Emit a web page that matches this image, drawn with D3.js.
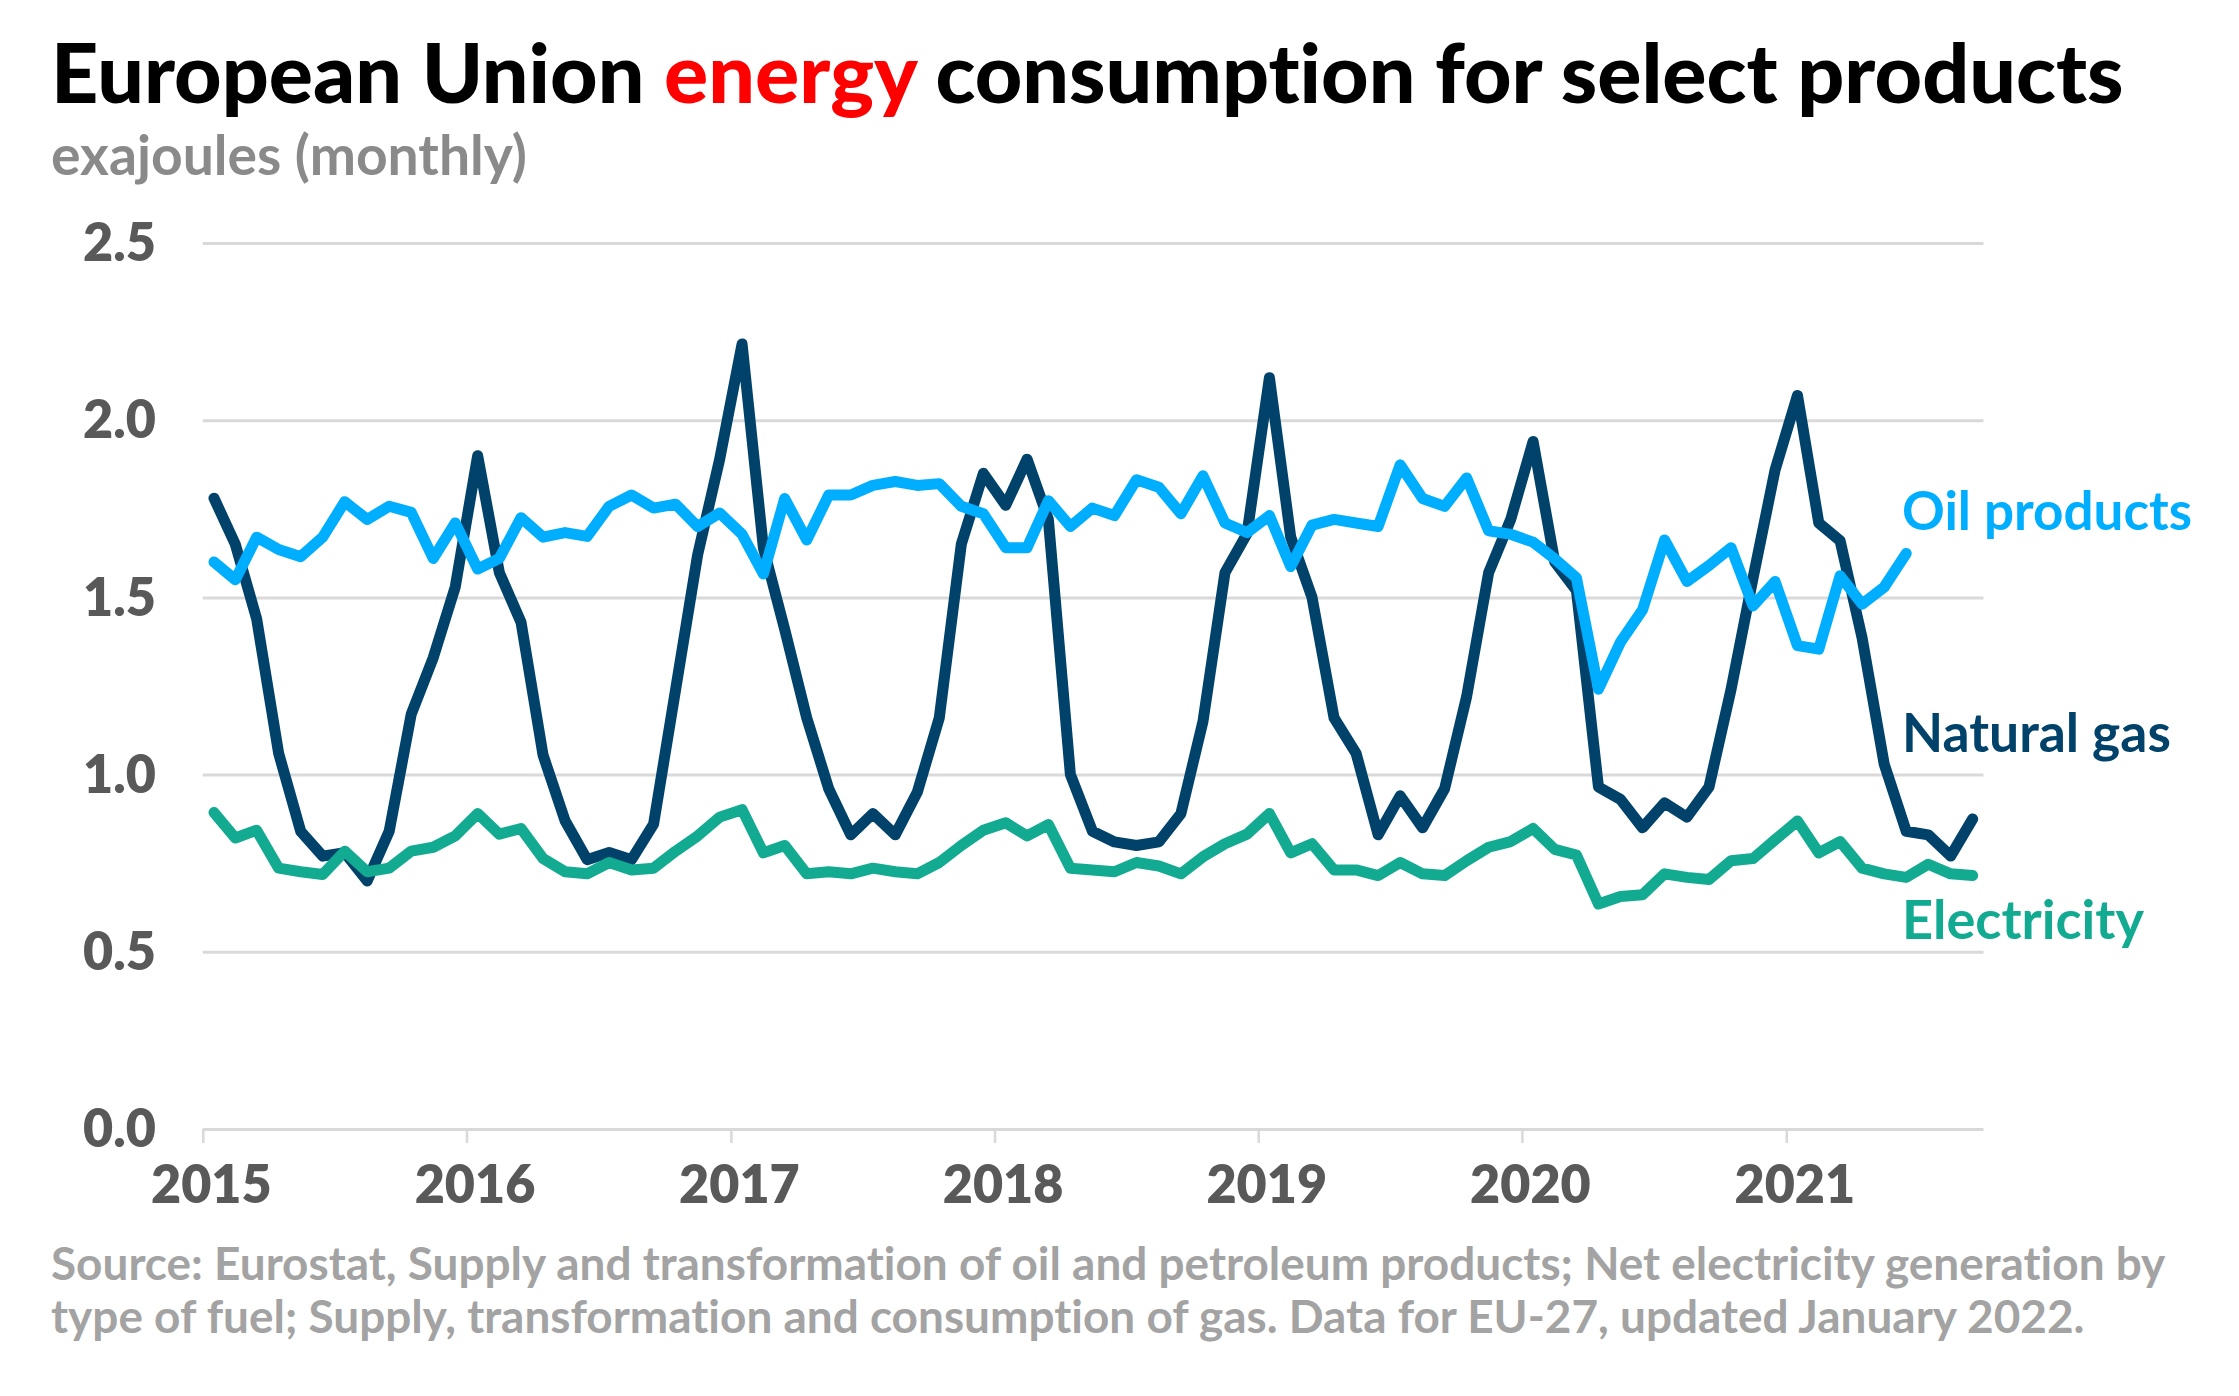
<!DOCTYPE html>
<html>
<head>
<meta charset="utf-8">
<script src="https://cdn.jsdelivr.net/npm/d3@7"></script>
<style>
  html, body { margin: 0; padding: 0; background: #ffffff; }
  svg { display: block; font-family: Lato, "Noto Sans", sans-serif; font-variant-ligatures: none; font-feature-settings: "liga" 0, "dlig" 0; }
</style>
</head>
<body>
<script>
// ---------------- DATA ----------------
const startMonth = new Date(2015, 0, 1);
const endMonth = new Date(2021, 9, 1); // axis end (exclusive)

// monthly values, Jan 2015 onward (exajoules)
const naturalGas = [
  1.78, 1.65, 1.44, 1.06, 0.84, 0.77, 0.78, 0.70, 0.84, 1.17, 1.33, 1.53,
  1.90, 1.57, 1.43, 1.055, 0.87, 0.76, 0.78, 0.76, 0.86, 1.24, 1.62, 1.89,
  2.215, 1.64, 1.41, 1.16, 0.96, 0.83, 0.89, 0.83, 0.95, 1.16, 1.65, 1.85,
  1.76, 1.89, 1.72, 1.00, 0.84, 0.81, 0.80, 0.81, 0.89, 1.15, 1.57, 1.68,
  2.12, 1.67, 1.50, 1.16, 1.06, 0.83, 0.94, 0.85, 0.96, 1.22, 1.57, 1.72,
  1.94, 1.60, 1.52, 0.965, 0.93, 0.85, 0.92, 0.88, 0.965, 1.24, 1.555, 1.86,
  2.07, 1.71, 1.66, 1.385, 1.03, 0.84, 0.83, 0.77, 0.875
];
const oilProducts = [
  1.60, 1.55, 1.67, 1.635, 1.615, 1.67, 1.77, 1.72, 1.757, 1.74, 1.61, 1.71,
  1.58, 1.61, 1.725, 1.67, 1.683, 1.672, 1.757, 1.789, 1.752, 1.763, 1.70, 1.738,
  1.678, 1.566, 1.779, 1.662, 1.789, 1.789, 1.816, 1.827, 1.816, 1.821, 1.757, 1.736,
  1.64, 1.64, 1.773, 1.70, 1.752, 1.731, 1.832, 1.811, 1.736, 1.843, 1.71, 1.683,
  1.731, 1.587, 1.704, 1.72, 1.71, 1.70, 1.874, 1.779, 1.757, 1.837, 1.688, 1.678,
  1.656, 1.609, 1.555, 1.241, 1.374, 1.465, 1.662, 1.545, 1.59, 1.64, 1.476, 1.545,
  1.364, 1.354, 1.561, 1.481, 1.529, 1.624
];
const electricity = [
  0.893, 0.821, 0.843, 0.736, 0.726, 0.718, 0.784, 0.726, 0.736, 0.784, 0.795, 0.827,
  0.890, 0.832, 0.848, 0.763, 0.726, 0.720, 0.752, 0.731, 0.736, 0.784, 0.827, 0.880,
  0.901, 0.779, 0.800, 0.720, 0.726, 0.720, 0.736, 0.726, 0.720, 0.752, 0.800, 0.843,
  0.864, 0.827, 0.859, 0.736, 0.731, 0.726, 0.752, 0.742, 0.720, 0.768, 0.805, 0.832,
  0.890, 0.779, 0.805, 0.731, 0.731, 0.715, 0.752, 0.720, 0.715, 0.757, 0.795, 0.811,
  0.848, 0.789, 0.773, 0.635, 0.656, 0.661, 0.720, 0.710, 0.704, 0.757, 0.763, 0.816,
  0.869, 0.779, 0.811, 0.736, 0.720, 0.710, 0.747, 0.720, 0.715
];
const yTicks = [0, 0.5, 1.0, 1.5, 2.0, 2.5];
const seriesNames = ["Natural gas", "Electricity", "Oil products"];
const titleParts = ["European Union ", "energy", " consumption for select products"];
const subtitleText = "exajoules (monthly)";
const sourceLines = [
  "Source: Eurostat, Supply and transformation of oil and petroleum products; Net electricity generation by",
  "type of fuel; Supply, transformation and consumption of gas. Data for EU-27, updated January 2022."
];

// ---------------- LAYOUT ----------------
const W = 2239, H = 1396;
const plotLeft = 202.8, plotRight = 1983.5, plotTop = 243, plotBottom = 1129;
const colors = { gas: "#01426a", oil: "#00aeff", elec: "#12aa91" };

const svg = d3.select("body").append("svg").attr("width", W).attr("height", H);
svg.append("rect").attr("width", W).attr("height", H).attr("fill", "#fff");

const x = d3.scaleTime().domain([startMonth, endMonth]).range([plotLeft, plotRight]);
const y = d3.scaleLinear().domain([0, 2.5]).range([plotBottom, plotTop]);

function midMonth(i) {
  const a = d3.timeMonth.offset(startMonth, i);
  const b = d3.timeMonth.offset(startMonth, i + 1);
  return new Date((+a + +b) / 2);
}

// fit text to a target width
function fit(sel, target) {
  const node = sel.node();
  const fs = parseFloat(sel.attr("font-size"));
  const len = node.getComputedTextLength();
  const nf = fs * target / len;
  sel.attr("font-size", nf);
  return nf;
}

// y axis + grid
const yAxis = d3.axisLeft(y).tickValues(yTicks).tickFormat(d3.format(".1f"))
  .tickSizeInner(-(plotRight - plotLeft)).tickSizeOuter(0).tickPadding(47);
const gy = svg.append("g").attr("transform", `translate(${plotLeft},0)`).call(yAxis);
gy.select(".domain").remove();
gy.selectAll(".tick line").attr("stroke", "#d9d9d9").attr("stroke-width", 3);
gy.selectAll(".tick text")
  .attr("fill", "#595959").attr("font-size", 52).attr("font-weight", 800)
  .attr("font-family", "Lato").attr("dy", "0.34em");

// x axis
const xAxis = d3.axisBottom(x).ticks(d3.timeYear.every(1)).tickFormat(d3.timeFormat("%Y"))
  .tickSizeInner(14).tickSizeOuter(0);
const gx = svg.append("g").attr("transform", `translate(0,${plotBottom})`).call(xAxis);
gx.select(".domain").remove();
gx.selectAll(".tick line").attr("stroke", "#d9d9d9").attr("stroke-width", 2.5);
gx.selectAll(".tick text")
  .attr("fill", "#595959").attr("font-size", 52).attr("font-weight", 800)
  .attr("font-family", "Lato").attr("y", 74).attr("dy", 0).attr("x", 8);

// lines
const line = d3.line().x((d, i) => x(midMonth(i))).y(d => y(d)).curve(d3.curveLinear);
const series = [
  { values: naturalGas, color: colors.gas },
  { values: electricity, color: colors.elec },
  { values: oilProducts, color: colors.oil }
];
svg.append("g").selectAll("path").data(series).join("path")
  .attr("d", d => line(d.values))
  .attr("fill", "none")
  .attr("stroke", d => d.color)
  .attr("stroke-width", 11)
  .attr("stroke-linejoin", "round")
  .attr("stroke-linecap", "round");

// series labels
const labels = [
  { text: seriesNames[2], color: colors.oil, y: 530, w: 290 },
  { text: seriesNames[0], color: colors.gas, y: 752, w: 269 },
  { text: seriesNames[1], color: colors.elec, y: 939, w: 242 }
];
labels.forEach(l => {
  const t = svg.append("text").attr("x", 1902).attr("y", l.y)
    .attr("fill", l.color).attr("font-size", 50).attr("font-weight", 700)
    .attr("font-family", "Lato").text(l.text);
  fit(t, l.w);
});

// title
const title = svg.append("text").attr("x", 51).attr("y", 103)
  .attr("font-size", 76).attr("font-weight", 900).attr("font-family", "Lato").attr("fill", "#000");
title.append("tspan").text(titleParts[0]);
title.append("tspan").attr("fill", "#ff0000").text(titleParts[1]);
title.append("tspan").text(titleParts[2]);
fit(title, 2073);

// subtitle
const sub = svg.append("text").attr("x", 51).attr("y", 175)
  .attr("font-size", 42).attr("font-weight", 700).attr("font-family", "Lato")
  .attr("fill", "#8a8a8a").text(subtitleText);
fit(sub, 476);

// source
const s1 = svg.append("text").attr("x", 51).attr("y", 1280)
  .attr("font-size", 38).attr("font-weight", 700).attr("font-family", "Lato")
  .attr("fill", "#a3a3a3").text(sourceLines[0]);
const sf = fit(s1, 2115);
svg.append("text").attr("x", 51).attr("y", 1333)
  .attr("font-size", sf).attr("font-weight", 700).attr("font-family", "Lato")
  .attr("fill", "#a3a3a3").text(sourceLines[1]);
</script>
</body>
</html>
